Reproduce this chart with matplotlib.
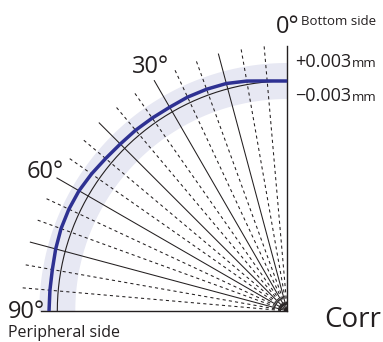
import numpy as np
import matplotlib
matplotlib.use('Agg')
import matplotlib.pyplot as plt

plt.rcParams['font.family'] = ['Open Sans', 'DejaVu Sans']

# measured profile: angle from bottom side (deg) and deviation from nominal (mm)
angles_deg = [0, 5, 10, 15, 20, 25, 30, 35, 40, 45, 50, 55, 60, 65, 70, 75, 80, 85, 90]
deviation_mm = [0.0, 0.00015, 0.00058, 0.00092, 0.0010, 0.0010, 0.00088, 0.00092,
                0.0010, 0.00103, 0.0012, 0.0015, 0.00175, 0.00183, 0.0018,
                0.00163, 0.00143, 0.00138, 0.00138]
tolerance_mm = 0.003
angle_labels = [0, 30, 60, 90]
ray_angles = list(range(5, 90, 5))

# drawing scale (1 unit = 1 px)
R0 = 230.0            # nominal radius
mag = 18.0 / 0.003    # deviation magnification, units per mm
ray_len = 266.0
text_col = '#231f20'
blue = '#2e3192'


def polar_xy(theta_deg, r):
    t = np.radians(theta_deg)
    return -np.asarray(r) * np.sin(t), np.asarray(r) * np.cos(t)


fig = plt.figure(figsize=(3.83, 3.42), dpi=100)
ax = fig.add_axes([0, 0, 1, 1])
ax.set_xlim(-287.3, 95.7)
ax.set_ylim(-31, 311)
ax.set_aspect('equal')
ax.axis('off')

# tolerance band
th = np.linspace(0, 90, 181)
xo, yo = polar_xy(th, R0 + tolerance_mm * mag)
xi, yi = polar_xy(th[::-1], R0 - tolerance_mm * mag)
ax.fill(np.r_[xo, xi], np.r_[yo, yi], color='#e7e8f3', lw=0, zorder=1)

# radial lines
for a in ray_angles:
    x, y = polar_xy(a, [0, ray_len])
    if a % 15 == 0:
        ax.plot(x, y, color=text_col, lw=0.75, zorder=2)
    else:
        ax.plot(x, y, color=text_col, lw=0.75, ls=(0, (3, 3)), zorder=2)

# axes lines
ax.plot([0, 0], [0, 265], color=text_col, lw=1.0, zorder=3)
ax.plot([0, -246], [0, 0], color=text_col, lw=1.0, zorder=3)

# nominal circle
xn, yn = polar_xy(th, R0)
ax.plot(xn, yn, color=text_col, lw=0.8, zorder=3)

# measured profile
r_meas = R0 + np.array(deviation_mm) * mag
xm, ym = polar_xy(np.array(angles_deg), r_meas)
ax.plot(xm, ym, color=blue, lw=2.5, solid_capstyle='butt', zorder=4)

# labels
big = 17
label_pos = {0: (-11.3, 278), 30: (-155.3, 238), 60: (-260.3, 133), 90: (-279.3, -7)}
for a in angle_labels:
    x, y = label_pos[a]
    ax.text(x, y, f'{a}°', fontsize=big, color=text_col, ha='left', va='baseline')

ax.text(13.4, 286, 'Bottom side', fontsize=9.5, color=text_col, ha='left', va='baseline')
ax.text(-279.3, -25.7, 'Peripheral side', fontsize=11.5, color=text_col, ha='left', va='baseline')

ax.text(7.7, 244, f'+{tolerance_mm:.3f}', fontsize=13, color=text_col, ha='left', va='baseline')
ax.text(64.5, 244, 'mm', fontsize=9.5, color=text_col, ha='left', va='baseline')
ax.text(7.7, 210, f'\u2212{tolerance_mm:.3f}', fontsize=13, color=text_col, ha='left', va='baseline')
ax.text(64.5, 210, 'mm', fontsize=9.5, color=text_col, ha='left', va='baseline')

ax.text(36.7, -16, 'Corr', fontsize=20, color=text_col, ha='left', va='baseline')

fig.savefig('out.png', dpi=100)
